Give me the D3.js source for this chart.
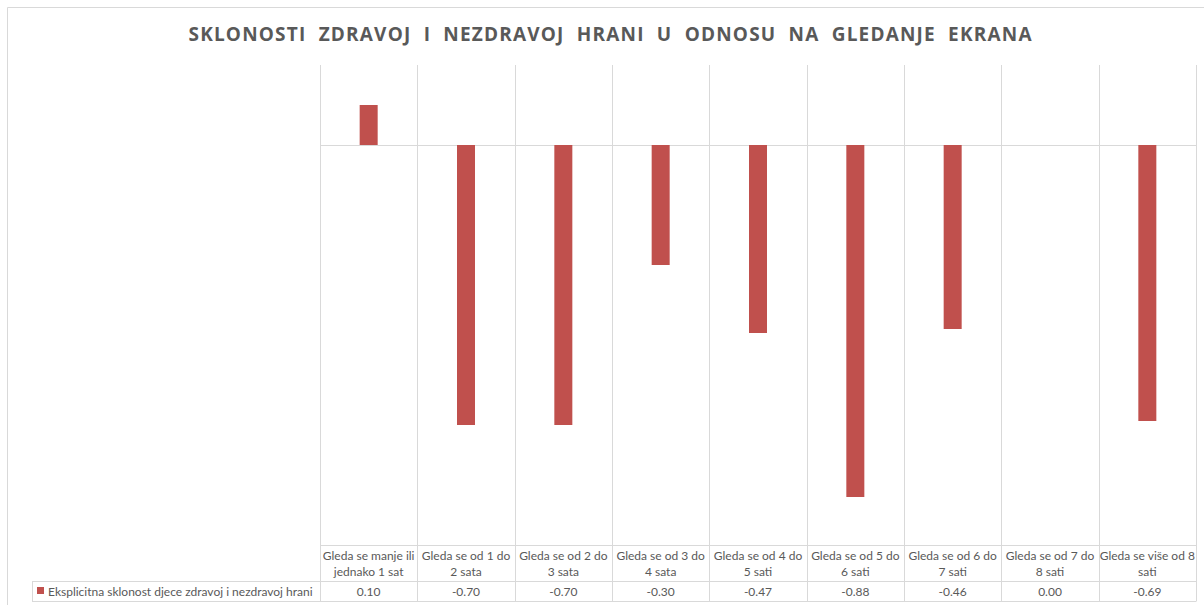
<!DOCTYPE html>
<html>
<meta charset="utf-8">
<style>
body { margin: 0; background: #fff; }
#chart { width: 1204px; height: 605px; }
text { font-family: Lato, "Open Sans", sans-serif; fill: #595959; }
</style>
<script src="https://d3js.org/d3.v7.min.js"></script>
<body>
<div id="chart"></div>
<script>
// chart data
var title = "SKLONOSTI  ZDRAVOJ  I  NEZDRAVOJ  HRANI  U  ODNOSU  NA  GLEDANJE  EKRANA";
var seriesName = "Eksplicitna sklonost djece zdravoj i nezdravoj hrani";
var categories = [
    ["Gleda se manje ili", "jednako 1 sat"],
    ["Gleda se od 1 do", "2 sata"],
    ["Gleda se od 2 do", "3 sata"],
    ["Gleda se od 3 do", "4 sata"],
    ["Gleda se od 4 do", "5 sati"],
    ["Gleda se od 5 do", "6 sati"],
    ["Gleda se od 6 do", "7 sati"],
    ["Gleda se od 7 do", "8 sati"],
    ["Gleda se više od 8", "sati"]
];
var values = [0.10, -0.70, -0.70, -0.30, -0.47, -0.88, -0.46, 0.00, -0.69];
var yDomain = [-1, 0.2];

var width = 1204, height = 605;
var plot = { left: 320, right: 1196, top: 65, bottom: 545 };
var row1 = 581, row2 = 601;   // data table row lines
var legendLeft = 32;
var gridColor = "#d9d9d9";
var barColor = "#c0504d";

var svg = d3.select("#chart").append("svg")
    .attr("width", width)
    .attr("height", height);

// outer chart border
svg.append("path")
    .attr("d", "M7.5," + height + "V7.5H" + width)
    .attr("fill", "none")
    .attr("stroke", "#d9d9d9");

// title
svg.append("text")
    .attr("x", 610)
    .attr("y", 41)
    .attr("text-anchor", "middle")
    .attr("textLength", 843)
    .attr("lengthAdjust", "spacing")
    .style("font-family", "'Open Sans', sans-serif")
    .style("font-weight", "bold")
    .style("font-size", "19px")
    .style("white-space", "pre")
    .attr("xml:space", "preserve")
    .text(title);

var x = d3.scaleBand()
    .domain(d3.range(categories.length))
    .range([plot.left, plot.right]);

var y = d3.scaleLinear()
    .domain(yDomain)
    .range([plot.bottom, plot.top]);

var g = svg.append("g");

// vertical grid / table lines at category boundaries
var bounds = d3.range(categories.length + 1).map(function(i) {
    return i < categories.length ? x(i) : plot.right;
});
g.selectAll("line.v")
    .data(bounds)
    .enter().append("line")
    .attr("class", "v")
    .attr("x1", function(d) { return Math.round(d) + 0.5; })
    .attr("x2", function(d) { return Math.round(d) + 0.5; })
    .attr("y1", plot.top)
    .attr("y2", row2)
    .attr("stroke", gridColor);

// zero line
g.append("line")
    .attr("x1", plot.left).attr("x2", plot.right)
    .attr("y1", Math.round(y(0)) + 0.5).attr("y2", Math.round(y(0)) + 0.5)
    .attr("stroke", gridColor);

// table horizontal lines
g.append("line")
    .attr("x1", plot.left).attr("x2", plot.right + 0.5)
    .attr("y1", plot.bottom + 0.5).attr("y2", plot.bottom + 0.5)
    .attr("stroke", gridColor);
[row1, row2].forEach(function(r) {
    g.append("line")
        .attr("x1", legendLeft).attr("x2", plot.right + 0.5)
        .attr("y1", r + 0.5).attr("y2", r + 0.5)
        .attr("stroke", gridColor);
});
g.append("line")
    .attr("x1", legendLeft + 0.5).attr("x2", legendLeft + 0.5)
    .attr("y1", row1).attr("y2", row2 + 0.5)
    .attr("stroke", gridColor);

// bars
var barW = 18;
g.selectAll("rect.bar")
    .data(values)
    .enter().append("rect")
    .attr("class", "bar")
    .attr("x", function(d, i) { return x(i) + x.bandwidth() / 2 - barW / 2; })
    .attr("y", function(d) { return y(Math.max(0, d)); })
    .attr("width", barW)
    .attr("height", function(d) { return Math.abs(y(d) - y(0)); })
    .attr("fill", barColor);

// category labels in table header
var cat = g.selectAll("text.cat")
    .data(categories)
    .enter().append("text")
    .attr("class", "cat")
    .attr("text-anchor", "middle")
    .style("font-size", "12px");
cat.selectAll("tspan")
    .data(function(d, i) { return d.map(function(t) { return { t: t, i: i }; }); })
    .enter().append("tspan")
    .attr("x", function(d) { return x(d.i) + x.bandwidth() / 2; })
    .attr("y", function(d, j) { return 560 + j * 16; })
    .text(function(d) { return d.t; });

// values row (plain hyphen minus like the original)
var fmt = function(d) { return d3.format(".2f")(d).replace("\u2212", "-"); };
g.selectAll("text.val")
    .data(values)
    .enter().append("text")
    .attr("class", "val")
    .attr("text-anchor", "middle")
    .attr("x", function(d, i) { return x(i) + x.bandwidth() / 2; })
    .attr("y", 596)
    .style("font-size", "12px")
    .text(fmt);

// legend key in table
g.append("rect")
    .attr("x", 37).attr("y", 587)
    .attr("width", 7).attr("height", 7)
    .attr("fill", barColor);
g.append("text")
    .attr("x", 48).attr("y", 596)
    .style("font-size", "12px")
    .text(seriesName);
</script>
</body>
</html>
